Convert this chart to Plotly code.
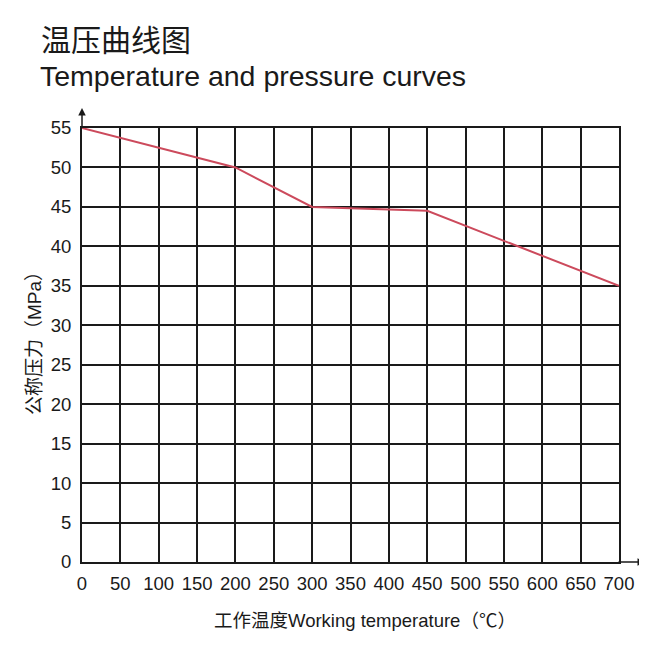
import plotly.graph_objects as go

# Data
temperature = [0, 200, 300, 450, 700]
pressure = [55, 50, 45, 44.5, 35]
x_ticks = list(range(0, 701, 50))
y_ticks = list(range(0, 56, 5))

title_cn = "温压曲线图"
title_en = "Temperature and pressure curves"
x_title = "工作温度Working temperature（℃）"
y_title = "公称压力（MPa）"

FONT = "Liberation Sans, Arial, Noto Sans CJK SC, sans-serif"
OFF = 8  # page body margin

fig = go.Figure()
fig.add_trace(go.Scatter(
    x=temperature, y=pressure, mode="lines",
    line=dict(color="#cc4a5c", width=2),
    hoverinfo="skip", showlegend=False,
))

W, H = 647 - OFF, 664 - OFF
# reference page coordinates of plot area
P_L, P_R, P_T, P_B = 82, 619, 128, 562
L = P_L - OFF
T = P_T - OFF
R = W - (P_R - OFF)
B = H - (P_B - OFF)

fig.update_layout(
    width=W, height=H,
    margin=dict(l=L, r=R, t=T, b=B),
    paper_bgcolor="white", plot_bgcolor="white",
    font=dict(family=FONT, color="#1a1a1a", size=18),
    showlegend=False,
)
fig.update_xaxes(
    range=[0, 700], tickvals=x_ticks, ticktext=[str(v) for v in x_ticks],
    showgrid=True, gridcolor="#1a1a1a", gridwidth=2,
    showline=True, linecolor="#1a1a1a", linewidth=2, mirror=True,
    zeroline=False, ticks="", ticklabelstandoff=4,
    tickfont=dict(size=18.5, family=FONT, color="#1a1a1a"),
)
fig.update_yaxes(
    range=[0, 55], tickvals=y_ticks, ticktext=[str(v) for v in y_ticks],
    showgrid=True, gridcolor="#1a1a1a", gridwidth=2,
    showline=True, linecolor="#1a1a1a", linewidth=2, mirror=True,
    zeroline=False, ticks="", ticklabelstandoff=5,
    tickfont=dict(size=18.5, family=FONT, color="#1a1a1a"),
)

pw = W - L - R
ph = H - T - B

def px(xp):
    # reference page x -> paper
    return (xp - OFF - L) / pw

def py(yp):
    # reference page y -> paper
    return (H - B - (yp - OFF)) / ph

annotations = [
    dict(text=title_cn, x=px(39), y=py(38), xref="paper", yref="paper",
         xanchor="left", yanchor="middle", showarrow=False,
         font=dict(size=30, family="Noto Sans CJK SC", color="#1a1a1a")),
    dict(text=title_en, x=px(38), y=py(76), xref="paper", yref="paper",
         xanchor="left", yanchor="middle", showarrow=False,
         font=dict(size=28.5, family=FONT, color="#1a1a1a")),
    dict(text=x_title, x=px(365), y=py(620), xref="paper", yref="paper",
         xanchor="center", yanchor="middle", showarrow=False,
         font=dict(size=18.5, family=FONT, color="#1a1a1a")),
    dict(text=y_title, x=px(34), y=py(339), xref="paper", yref="paper",
         xanchor="center", yanchor="middle", showarrow=False, textangle=-90,
         font=dict(size=19, family=FONT, color="#1a1a1a")),
    # axis arrows
    dict(text="", x=0, y=py(108), xref="paper", yref="paper",
         ax=0, ay=20, showarrow=True, arrowhead=2, arrowsize=1,
         arrowwidth=1.5, arrowcolor="#1a1a1a"),
    dict(text="", x=px(645), y=0, xref="paper", yref="paper",
         ax=-28, ay=0, showarrow=True, arrowhead=2, arrowsize=1,
         arrowwidth=1.5, arrowcolor="#1a1a1a"),
]
fig.update_layout(annotations=annotations)

fig.write_html("out.html")
